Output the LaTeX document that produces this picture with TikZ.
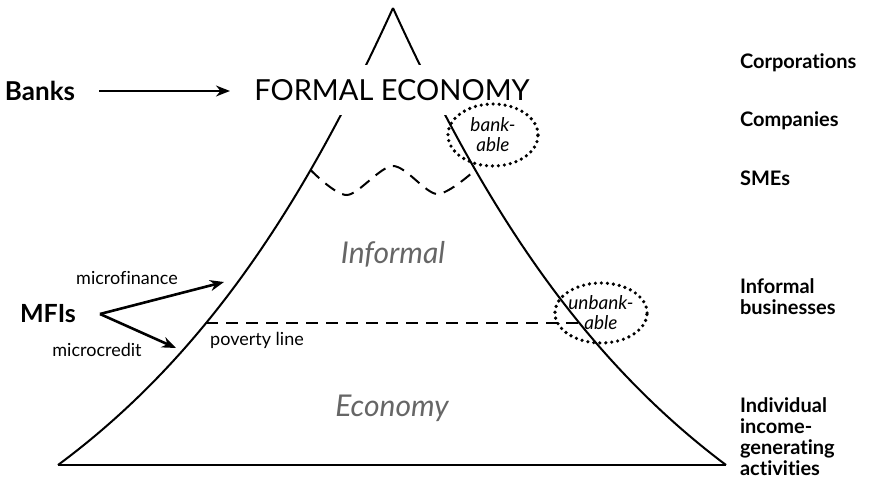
\documentclass[tikz,border=0pt]{standalone}
\usepackage{fontspec}
\setmainfont{Lato}[Ligatures=NoCommon]
\usetikzlibrary{arrows.meta,intersections,shapes.geometric}

\definecolor{shade}{HTML}{666666}

\tikzset{
  side/.style={line width=1pt},
  cut/.style={line width=1pt, dash pattern=on 6pt off 4pt},
  ring/.style={draw, ellipse, inner sep=0pt, line width=1.8pt, line cap=round,
    dash pattern=on 0pt off 3pt, align=center,
    font=\itshape\fontsize{9.5}{10}\selectfont},
  layer/.style={anchor=west, align=left, font=\bfseries\fontsize{10}{10.5}\selectfont},
  lbl/.style={font=\fontsize{9}{11}\selectfont},
  zone/.style={text=shade, font=\itshape\fontsize{15}{17}\selectfont}
}

\begin{document}
\begin{tikzpicture}[x=.5pt,y=-.5pt,>={Stealth[length=7pt,width=5.5pt]}]
  \useasboundingbox (0,0) rectangle (869,492);

  % pyramid
  \draw[side,name path=lside] (58,465) .. controls (212,351) and (309,192) .. (393,8);
  \draw[side,name path=rside] (726,465) .. controls (574,351) and (477,192) .. (393,8);
  \draw[side] (58,465) -- (726,465);

  \path[name path=pov] (0,323) -- (869,323);
  \path[name path=top] (0,170) -- (869,170);
  \path[name intersections={of=lside and pov,by=p1}];
  \path[name intersections={of=rside and pov,by=p2}];
  \path[name intersections={of=lside and top,by=w1}];
  \path[name intersections={of=rside and top,by=w2}];

  % borders between the layers
  \draw[cut] (p1) -- (p2);
  \draw[cut] plot[smooth] coordinates {(w1) (347,195) (393,166) (437,194) (w2)};

  \node[fill=white,inner xsep=12pt,inner ysep=7pt,font=\fontsize{14.5}{17}\selectfont]
    (formal) at (392,90) {FORMAL ECONOMY};
  \node[zone] (informal) at (393,254) {Informal};
  \node[zone] (economy) at (392,408) {Economy};

  \node[ring,minimum width=45pt,minimum height=31pt] (bankable) at (493,135) {bank-\\able};
  \node[ring,minimum width=35pt,minimum height=30pt] (unbankable) at (601,313) {unbank-\\able};

  % lenders
  \node[font=\bfseries\fontsize{13}{15}\selectfont] (banks) at (40,91) {Banks};
  \draw[->,line width=.8pt,shorten <=8.5pt] (banks.east) -- (banks.east -| formal.west);

  \node[font=\bfseries\fontsize{12.5}{15}\selectfont] (mfis) at (48,314) {MFIs};
  \coordinate (fork) at ([xshift=8.5pt]mfis.east);
  \coordinate (fin) at (224,282);
  \coordinate (cred) at (176,348);
  \draw[->,line width=1.3pt] (fork) -- (fin);
  \draw[->,line width=1.3pt] (fork) -- (cred);
  \node[lbl] (finlbl) at (127,278) {microfinance};
  \node[lbl] (credlbl) at (97,350) {microcredit};
  \node[lbl] (povlbl) at (257,340) {poverty line};

  % who sits where
  \foreach \y/\t [count=\i] in {63/Corporations, 121/Companies, 178/SMEs,
      297/{Informal\\businesses}, 437/{Individual\\income-\\generating\\activities}}
    \node[layer] (layer\i) at (733,\y) {\t};
\end{tikzpicture}
\end{document}
